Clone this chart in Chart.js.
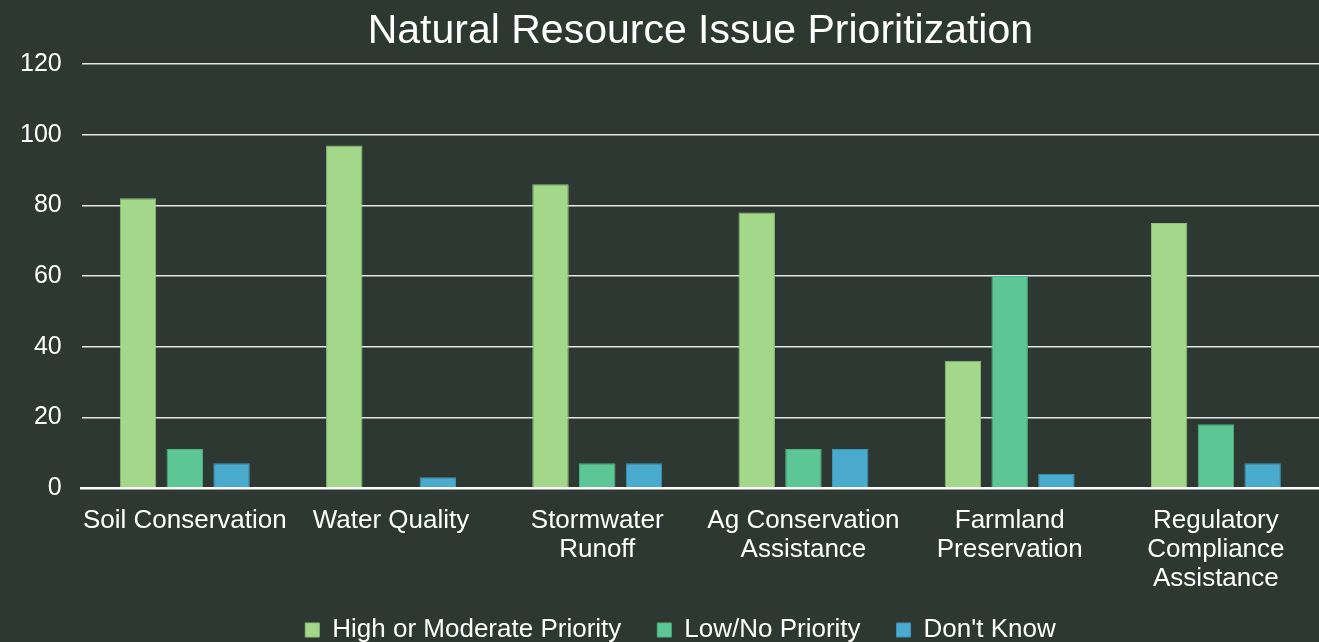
<!DOCTYPE html>
<html>
<head>
<meta charset="utf-8">
<script src="https://cdn.jsdelivr.net/npm/chart.js@4"></script>
<style>
  html, body { margin: 0; padding: 0; background: #2c3831; }
  #wrap { width: 1319px; height: 642px; position: relative; }
</style>
</head>
<body>
<div id="wrap"><canvas id="issueChart"></canvas></div>
<script>
const categories = [
    'Soil Conservation',
    'Water Quality',
    ['Stormwater', 'Runoff'],
    ['Ag Conservation', 'Assistance'],
    ['Farmland', 'Preservation'],
    ['Regulatory', 'Compliance', 'Assistance']
];
const highPriority = [82, 97, 86, 78, 36, 75];
const lowPriority = [11, 0, 7, 11, 60, 18];
const dontKnow = [7, 3, 7, 11, 4, 7];
const yTicks = [0, 20, 40, 60, 80, 100, 120];

// legend: wide gaps between items but no tall box around them
const LEGEND_PAD = 36;
const LEGEND_TEXT_TOP = 13;
const LEGEND_SHIFT_X = 21;

const legendTweak = {
    id: 'legendTweak',
    beforeInit(chart) {
        const legend = chart.legend;
        const draw = legend.draw;
        legend.draw = function () {
            const { top, left, right } = this;
            this.top = top - (LEGEND_PAD - LEGEND_TEXT_TOP);
            this.left = left + LEGEND_SHIFT_X;
            this.right = right + LEGEND_SHIFT_X;
            draw.call(this);
            this.top = top;
            this.left = left;
            this.right = right;
        };
    }
};

document.addEventListener('DOMContentLoaded', () => {
    const ctx = document.getElementById('issueChart').getContext('2d');
    const font = 'Arial, "Liberation Sans", sans-serif';

    new Chart(ctx, {
        type: 'bar',
        data: {
            labels: categories,
            datasets: [
                { label: 'High or Moderate Priority', data: highPriority, backgroundColor: '#a3d78a', borderColor: '#8fc278', borderWidth: 1 },
                { label: 'Low/No Priority', data: lowPriority, backgroundColor: '#5cc795', borderColor: '#4fb282', borderWidth: 1 },
                { label: "Don't Know", data: dontKnow, backgroundColor: '#4aabcf', borderColor: '#3f95b6', borderWidth: 1 }
            ]
        },
        options: {
            responsive: true,
            maintainAspectRatio: false,
            animation: false,
            categoryPercentage: 0.68,
            barPercentage: 0.78,
            layout: { padding: { left: 0, right: 0, top: 0, bottom: 0 } },
            plugins: {
                title: {
                    display: true,
                    text: 'Natural Resource Issue Prioritization',
                    color: '#ffffff',
                    fullSize: false,
                    font: { family: font, size: 41, weight: 'normal' },
                    padding: { top: 7, bottom: 8 }
                },
                legend: {
                    position: 'bottom',
                    maxHeight: 38,
                    labels: {
                        color: '#ffffff',
                        font: { family: font, size: 26 },
                        boxWidth: 14,
                        boxHeight: 14,
                        padding: LEGEND_PAD
                    }
                },
                tooltip: { enabled: false }
            },
            scales: {
                x: {
                    grid: { display: false },
                    border: { display: true, color: '#ffffff', width: 2.5 },
                    ticks: {
                        color: '#ffffff',
                        font: { family: font, size: 26, lineHeight: 1.13 },
                        maxRotation: 0,
                        autoSkip: false,
                        padding: 10
                    }
                },
                y: {
                    min: 0,
                    max: 120,
                    afterBuildTicks: axis => { axis.ticks = yTicks.map(v => ({ value: v })); },
                    grid: { color: '#e6e6e6', lineWidth: 1.5, drawTicks: false },
                    border: { display: false },
                    ticks: {
                        color: '#ffffff',
                        font: { family: font, size: 25 },
                        padding: 20
                    }
                }
            }
        },
        plugins: [legendTweak]
    });
});
</script>
</body>
</html>
